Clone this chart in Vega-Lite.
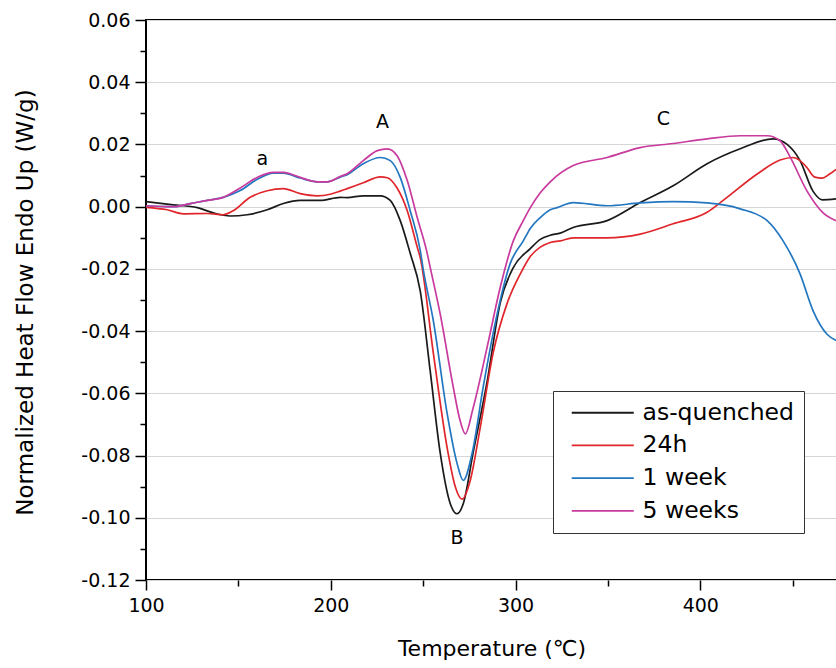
{
  "$schema": "https://vega.github.io/schema/vega-lite/v6.json",
  "width": 691,
  "height": 560,
  "autosize": {"type": "none"},
  "padding": {"left": 146, "top": 20, "right": 0, "bottom": 88},
  "background": "white",
  "config": {
    "view": {"stroke": "black", "strokeWidth": 2},
    "font": "DejaVu Sans"
  },
  "datasets": {
    "curves": [
      {"s": "as-quenched", "T": 100, "v": 0.0016},
      {"s": "as-quenched", "T": 114.8, "v": 0.0006},
      {"s": "as-quenched", "T": 127.8, "v": -0.0003},
      {"s": "as-quenched", "T": 136.4, "v": -0.002},
      {"s": "as-quenched", "T": 145.6, "v": -0.003},
      {"s": "as-quenched", "T": 154.8, "v": -0.0026},
      {"s": "as-quenched", "T": 165.6, "v": -0.001},
      {"s": "as-quenched", "T": 174.3, "v": 0.001},
      {"s": "as-quenched", "T": 183.5, "v": 0.002},
      {"s": "as-quenched", "T": 194.3, "v": 0.002},
      {"s": "as-quenched", "T": 205.1, "v": 0.003},
      {"s": "as-quenched", "T": 208.9, "v": 0.0029},
      {"s": "as-quenched", "T": 217.6, "v": 0.0035},
      {"s": "as-quenched", "T": 226.8, "v": 0.0035},
      {"s": "as-quenched", "T": 232.2, "v": 0.002},
      {"s": "as-quenched", "T": 237.6, "v": -0.0045},
      {"s": "as-quenched", "T": 243, "v": -0.015},
      {"s": "as-quenched", "T": 248.4, "v": -0.027},
      {"s": "as-quenched", "T": 253.8, "v": -0.0527},
      {"s": "as-quenched", "T": 259.2, "v": -0.079},
      {"s": "as-quenched", "T": 264.7, "v": -0.0955},
      {"s": "as-quenched", "T": 268.3, "v": -0.0987},
      {"s": "as-quenched", "T": 271.7, "v": -0.0955},
      {"s": "as-quenched", "T": 277.1, "v": -0.079},
      {"s": "as-quenched", "T": 284.7, "v": -0.056},
      {"s": "as-quenched", "T": 291.7, "v": -0.031},
      {"s": "as-quenched", "T": 298.8, "v": -0.0196},
      {"s": "as-quenched", "T": 308, "v": -0.0135},
      {"s": "as-quenched", "T": 313.4, "v": -0.0105},
      {"s": "as-quenched", "T": 318.8, "v": -0.0092},
      {"s": "as-quenched", "T": 324.2, "v": -0.0085},
      {"s": "as-quenched", "T": 331.2, "v": -0.0067},
      {"s": "as-quenched", "T": 349.6, "v": -0.0045},
      {"s": "as-quenched", "T": 367.5, "v": 0.0013},
      {"s": "as-quenched", "T": 385.3, "v": 0.0067},
      {"s": "as-quenched", "T": 403.7, "v": 0.0138},
      {"s": "as-quenched", "T": 421.6, "v": 0.0186},
      {"s": "as-quenched", "T": 439.4, "v": 0.0218},
      {"s": "as-quenched", "T": 447, "v": 0.02},
      {"s": "as-quenched", "T": 454, "v": 0.0148},
      {"s": "as-quenched", "T": 461, "v": 0.005},
      {"s": "as-quenched", "T": 466, "v": 0.0022},
      {"s": "as-quenched", "T": 473.5, "v": 0.0025},

      {"s": "24h", "T": 100, "v": -0.0002},
      {"s": "24h", "T": 111.5, "v": -0.001},
      {"s": "24h", "T": 120.2, "v": -0.0023},
      {"s": "24h", "T": 133.2, "v": -0.0022},
      {"s": "24h", "T": 141.8, "v": -0.0026},
      {"s": "24h", "T": 147.2, "v": -0.0013},
      {"s": "24h", "T": 156.4, "v": 0.003},
      {"s": "24h", "T": 165.6, "v": 0.0051},
      {"s": "24h", "T": 174.3, "v": 0.0058},
      {"s": "24h", "T": 183.5, "v": 0.0042},
      {"s": "24h", "T": 192.7, "v": 0.0035},
      {"s": "24h", "T": 199.7, "v": 0.004},
      {"s": "24h", "T": 205.1, "v": 0.005},
      {"s": "24h", "T": 208.9, "v": 0.0058},
      {"s": "24h", "T": 217.6, "v": 0.0077},
      {"s": "24h", "T": 226.8, "v": 0.0096},
      {"s": "24h", "T": 230.6, "v": 0.0093},
      {"s": "24h", "T": 235.9, "v": 0.006},
      {"s": "24h", "T": 241.4, "v": -0.0013},
      {"s": "24h", "T": 246.8, "v": -0.013},
      {"s": "24h", "T": 248.4, "v": -0.0163},
      {"s": "24h", "T": 255.5, "v": -0.047},
      {"s": "24h", "T": 263, "v": -0.0775},
      {"s": "24h", "T": 267.4, "v": -0.09},
      {"s": "24h", "T": 271.1, "v": -0.094},
      {"s": "24h", "T": 275.5, "v": -0.088},
      {"s": "24h", "T": 280.9, "v": -0.071},
      {"s": "24h", "T": 287.9, "v": -0.047},
      {"s": "24h", "T": 295.5, "v": -0.031},
      {"s": "24h", "T": 302.6, "v": -0.0216},
      {"s": "24h", "T": 308, "v": -0.016},
      {"s": "24h", "T": 313.4, "v": -0.013},
      {"s": "24h", "T": 318.8, "v": -0.0115},
      {"s": "24h", "T": 324.2, "v": -0.011},
      {"s": "24h", "T": 331.2, "v": -0.01},
      {"s": "24h", "T": 349.6, "v": -0.01},
      {"s": "24h", "T": 367.5, "v": -0.0088},
      {"s": "24h", "T": 385.3, "v": -0.0055},
      {"s": "24h", "T": 403.7, "v": -0.0018},
      {"s": "24h", "T": 412.4, "v": 0.002},
      {"s": "24h", "T": 430.8, "v": 0.0105},
      {"s": "24h", "T": 443.2, "v": 0.015},
      {"s": "24h", "T": 450.2, "v": 0.0158},
      {"s": "24h", "T": 454, "v": 0.0148},
      {"s": "24h", "T": 457.8, "v": 0.0125},
      {"s": "24h", "T": 462, "v": 0.0095},
      {"s": "24h", "T": 465.9, "v": 0.0092},
      {"s": "24h", "T": 470, "v": 0.0105},
      {"s": "24h", "T": 473.5, "v": 0.012},

      {"s": "1 week", "T": 100, "v": 0.0003},
      {"s": "1 week", "T": 114.8, "v": 0.0},
      {"s": "1 week", "T": 124, "v": 0.001},
      {"s": "1 week", "T": 133.2, "v": 0.002},
      {"s": "1 week", "T": 141.8, "v": 0.003},
      {"s": "1 week", "T": 151, "v": 0.0052},
      {"s": "1 week", "T": 160.2, "v": 0.0088},
      {"s": "1 week", "T": 168.9, "v": 0.0108},
      {"s": "1 week", "T": 174.3, "v": 0.0108},
      {"s": "1 week", "T": 183.5, "v": 0.0092},
      {"s": "1 week", "T": 192.7, "v": 0.008},
      {"s": "1 week", "T": 198.1, "v": 0.008},
      {"s": "1 week", "T": 205.1, "v": 0.0095},
      {"s": "1 week", "T": 208.9, "v": 0.0103},
      {"s": "1 week", "T": 217.6, "v": 0.0138},
      {"s": "1 week", "T": 226.8, "v": 0.0158},
      {"s": "1 week", "T": 232.2, "v": 0.0148},
      {"s": "1 week", "T": 237.6, "v": 0.0094},
      {"s": "1 week", "T": 243, "v": -0.0013},
      {"s": "1 week", "T": 248.4, "v": -0.014},
      {"s": "1 week", "T": 250, "v": -0.02},
      {"s": "1 week", "T": 255.5, "v": -0.0366},
      {"s": "1 week", "T": 263, "v": -0.0665},
      {"s": "1 week", "T": 268.4, "v": -0.0826},
      {"s": "1 week", "T": 271.7, "v": -0.088},
      {"s": "1 week", "T": 276.6, "v": -0.079},
      {"s": "1 week", "T": 282.5, "v": -0.058},
      {"s": "1 week", "T": 290.1, "v": -0.0344},
      {"s": "1 week", "T": 297.1, "v": -0.0183},
      {"s": "1 week", "T": 304.2, "v": -0.011},
      {"s": "1 week", "T": 308, "v": -0.007},
      {"s": "1 week", "T": 313.4, "v": -0.0035},
      {"s": "1 week", "T": 318.8, "v": -0.001},
      {"s": "1 week", "T": 322.6, "v": -0.0003},
      {"s": "1 week", "T": 331.2, "v": 0.0013},
      {"s": "1 week", "T": 349.6, "v": 0.0003},
      {"s": "1 week", "T": 367.5, "v": 0.0012},
      {"s": "1 week", "T": 385.3, "v": 0.0016},
      {"s": "1 week", "T": 403.7, "v": 0.0012},
      {"s": "1 week", "T": 421.6, "v": -0.0007},
      {"s": "1 week", "T": 436.2, "v": -0.0045},
      {"s": "1 week", "T": 444.8, "v": -0.011},
      {"s": "1 week", "T": 454, "v": -0.0216},
      {"s": "1 week", "T": 461, "v": -0.0334},
      {"s": "1 week", "T": 468.6, "v": -0.041},
      {"s": "1 week", "T": 473.5, "v": -0.043},

      {"s": "5 weeks", "T": 100, "v": 0.0003},
      {"s": "5 weeks", "T": 114.8, "v": 0.0},
      {"s": "5 weeks", "T": 124, "v": 0.001},
      {"s": "5 weeks", "T": 133.2, "v": 0.002},
      {"s": "5 weeks", "T": 141.8, "v": 0.003},
      {"s": "5 weeks", "T": 151, "v": 0.006},
      {"s": "5 weeks", "T": 160.2, "v": 0.0094},
      {"s": "5 weeks", "T": 168.9, "v": 0.011},
      {"s": "5 weeks", "T": 174.3, "v": 0.011},
      {"s": "5 weeks", "T": 183.5, "v": 0.0094},
      {"s": "5 weeks", "T": 192.7, "v": 0.008},
      {"s": "5 weeks", "T": 198.1, "v": 0.008},
      {"s": "5 weeks", "T": 205.1, "v": 0.0097},
      {"s": "5 weeks", "T": 208.9, "v": 0.0106},
      {"s": "5 weeks", "T": 217.6, "v": 0.0148},
      {"s": "5 weeks", "T": 225.2, "v": 0.018},
      {"s": "5 weeks", "T": 230.6, "v": 0.0186},
      {"s": "5 weeks", "T": 235.9, "v": 0.0164},
      {"s": "5 weeks", "T": 241.4, "v": 0.0084},
      {"s": "5 weeks", "T": 246.8, "v": -0.0035},
      {"s": "5 weeks", "T": 252.2, "v": -0.015},
      {"s": "5 weeks", "T": 254, "v": -0.02},
      {"s": "5 weeks", "T": 259.2, "v": -0.0344},
      {"s": "5 weeks", "T": 266.3, "v": -0.058},
      {"s": "5 weeks", "T": 270.1, "v": -0.069},
      {"s": "5 weeks", "T": 272.8, "v": -0.073},
      {"s": "5 weeks", "T": 277.1, "v": -0.0646},
      {"s": "5 weeks", "T": 284.7, "v": -0.045},
      {"s": "5 weeks", "T": 291.7, "v": -0.026},
      {"s": "5 weeks", "T": 298.8, "v": -0.011},
      {"s": "5 weeks", "T": 304.2, "v": -0.0045},
      {"s": "5 weeks", "T": 308, "v": -0.0003},
      {"s": "5 weeks", "T": 313.4, "v": 0.0045},
      {"s": "5 weeks", "T": 318.8, "v": 0.008},
      {"s": "5 weeks", "T": 331.2, "v": 0.0132},
      {"s": "5 weeks", "T": 349.6, "v": 0.0158},
      {"s": "5 weeks", "T": 367.5, "v": 0.019},
      {"s": "5 weeks", "T": 385.3, "v": 0.0203},
      {"s": "5 weeks", "T": 403.7, "v": 0.0218},
      {"s": "5 weeks", "T": 421.6, "v": 0.0228},
      {"s": "5 weeks", "T": 436.2, "v": 0.0228},
      {"s": "5 weeks", "T": 443.2, "v": 0.0212},
      {"s": "5 weeks", "T": 448.6, "v": 0.016},
      {"s": "5 weeks", "T": 457.8, "v": 0.005},
      {"s": "5 weeks", "T": 466.5, "v": -0.002},
      {"s": "5 weeks", "T": 473.5, "v": -0.0045}
    ],
    "labels": [
      {"label": "a", "T": 163, "v": 0.0154},
      {"label": "A", "T": 228, "v": 0.0273},
      {"label": "B", "T": 268.4, "v": -0.1064},
      {"label": "C", "T": 380, "v": 0.0283}
    ]
  },
  "layer": [
    {
      "data": {"name": "curves"},
      "mark": {"type": "line", "strokeWidth": 1.7, "clip": true, "interpolate": "monotone"},
      "encoding": {
        "x": {
          "field": "T", "type": "quantitative",
          "scale": {"domain": [100, 474], "nice": false, "zero": false},
          "axis": {
            "orient": "bottom", "values": [100, 200, 300, 400],
            "title": "Temperature (℃)", "grid": false, "domain": false,
            "tickSize": 10, "tickWidth": 1.5, "tickColor": "black",
            "labelFontSize": 19, "labelColor": "black", "labelPadding": 6,
            "labelFlush": false, "labelOverlap": false,
            "titleFontSize": 22, "titleFontWeight": "normal", "titleColor": "black",
            "titleY": 58
          }
        },
        "y": {
          "field": "v", "type": "quantitative",
          "scale": {"domain": [-0.12, 0.06], "nice": false, "zero": false},
          "axis": {
            "orient": "left",
            "values": [-0.12, -0.1, -0.08, -0.06, -0.04, -0.02, 0, 0.02, 0.04, 0.06],
            "labelExpr": "replace(format(datum.value, '.2f'), '\u2212', '-')",
            "grid": true, "gridColor": "#d6d6d6", "gridWidth": 1, "domain": false,
            "tickSize": 11, "tickWidth": 1.5, "tickColor": "black",
            "labelFontSize": 19, "labelColor": "black", "labelPadding": 5,
            "labelFlush": false, "labelOverlap": false,
            "title": "Normalized Heat Flow Endo Up (W/g)",
            "titleFontSize": 23, "titleFontWeight": "normal", "titleColor": "black",
            "titleX": -109, "titleY": 282
          }
        },
        "color": {
          "field": "s", "type": "nominal",
          "scale": {
            "domain": ["as-quenched", "24h", "1 week", "5 weeks"],
            "range": ["#1a1a1a", "#e0262b", "#2277c0", "#c83a9e"]
          },
          "legend": {
            "orient": "none", "legendX": 407, "legendY": 371,
            "title": null,
            "symbolType": "M-3,0H3", "symbolSize": 428, "symbolStrokeWidth": 1.8,
            "symbolOffset": 28,
            "labelFontSize": 23.5, "labelColor": "black", "labelFont": "DejaVu Sans",
            "labelOffset": 28, "rowPadding": 7.7, "padding": 10, "labelLimit": 400,
            "strokeColor": "#333333", "fillColor": "white"
          }
        }
      }
    },
    {
      "data": {"name": "labels"},
      "mark": {"type": "text", "fontSize": 19, "color": "black", "font": "DejaVu Sans"},
      "encoding": {
        "x": {
          "field": "T", "type": "quantitative",
          "axis": {
            "orient": "bottom", "values": [150, 250, 350, 450], "labels": false,
            "domain": false, "grid": false, "tickSize": 6, "tickWidth": 1.5,
            "tickColor": "black", "title": null
          }
        },
        "y": {
          "field": "v", "type": "quantitative",
          "axis": {
            "orient": "left",
            "values": [-0.11, -0.09, -0.07, -0.05, -0.03, -0.01, 0.01, 0.03, 0.05],
            "labels": false, "domain": false, "grid": false, "tickSize": 6,
            "tickWidth": 1.5, "tickColor": "black", "title": null
          }
        },
        "text": {"field": "label"}
      }
    }
  ],
  "resolve": {"axis": {"x": "independent", "y": "independent"}}
}
